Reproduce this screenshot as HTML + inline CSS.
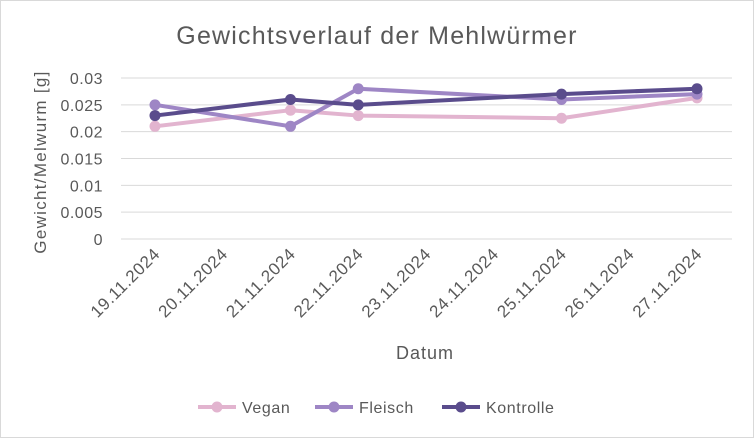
<!DOCTYPE html>
<html><head><meta charset="utf-8"><style>
body{margin:0;background:#fff;}
svg text{font-family:"Liberation Sans",sans-serif;fill:#595959;}
</style></head><body>
<svg width="754" height="438">
<rect x="0.5" y="0.5" width="753" height="437" fill="#fff" stroke="#d9d9d9"/>
<text x="377" y="44" font-size="25" letter-spacing="1.2" text-anchor="middle">Gewichtsverlauf der Mehlwürmer</text>
<g id="grid"></g><g id="series"></g>
<text x="425" y="359" font-size="18" letter-spacing="1" text-anchor="middle">Datum</text>
<text transform="translate(46,162) rotate(-90)" font-size="17" letter-spacing="1.3" text-anchor="middle">Gewicht/Melwurm [g]</text>
<g id="legend"></g>
</svg>
<script>
const categories=["19.11.2024","20.11.2024","21.11.2024","22.11.2024","23.11.2024","24.11.2024","25.11.2024","26.11.2024","27.11.2024"];
const yTicks=[0,0.005,0.01,0.015,0.02,0.025,0.03];
const yTickLabels=["0","0.005","0.01","0.015","0.02","0.025","0.03"];
const pointDays=[0,2,3,6,8];
const vegan=[0.021,0.024,0.023,0.0225,0.0263];
const fleisch=[0.025,0.021,0.028,0.026,0.027];
const kontrolle=[0.023,0.026,0.025,0.027,0.028];
const NS="http://www.w3.org/2000/svg";
const x=i=>155+i*(697-155)/8;
const y=v=>239-v/0.03*(239-78);
function mk(t,a,p){const e=document.createElementNS(NS,t);for(const k in a)e.setAttribute(k,a[k]);p.appendChild(e);return e;}
const g=document.getElementById('grid');
yTicks.forEach((v,i)=>{
 const l=mk('line',{x1:121,x2:732,y1:y(v),y2:y(v),stroke:'#d9d9d9','stroke-width':1},g);
 
 
 const t=mk('text',{x:103,y:y(v)+6,'font-size':16,'letter-spacing':0.5,'text-anchor':'end'},g);
 t.textContent=yTickLabels[i];
 
 
});
categories.forEach((c,i)=>{
 const t=mk('text',{transform:`translate(${x(i)+6},${255}) rotate(-45)`,'font-size':17,'letter-spacing':0.6,'text-anchor':'end'},g);
 t.textContent=c;
 
 
});
const S=document.getElementById('series');
const defs=[["Vegan",vegan,"#e2b4cf"],["Fleisch",fleisch,"#9e86c5"],["Kontrolle",kontrolle,"#5a4c8c"]];
defs.forEach(([n,d,c])=>{
 const grp=mk('g',{},S);
 
 
 const pl=mk('polyline',{points:d.map((v,i)=>x(pointDays[i])+','+y(v)).join(' '),fill:'none',stroke:c,'stroke-width':4,'stroke-linejoin':'round'},grp);
 
 
 d.forEach((v,i)=>{
  const p=mk('circle',{cx:x(pointDays[i]),cy:y(v),r:5.5,fill:c},grp);
  
  
 });
});
const L=document.getElementById('legend');
const lx=[198,315,442];
defs.forEach(([n,d,c],i)=>{
 const grp=mk('g',{},L);
 
 
 mk('line',{x1:lx[i],x2:lx[i]+38,y1:407,y2:407,stroke:c,'stroke-width':4},grp);
 mk('circle',{cx:lx[i]+19,cy:407,r:5.5,fill:c},grp);
 const t=mk('text',{x:lx[i]+44,y:413,'font-size':16,'letter-spacing':0.6},grp);
 t.textContent=n;
});
</script>
</body></html>
